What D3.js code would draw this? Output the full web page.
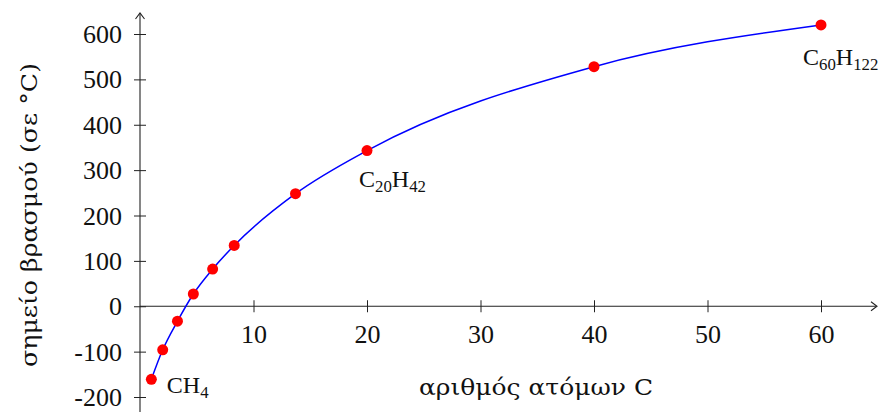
<!DOCTYPE html>
<html>
<head>
<meta charset="utf-8">
<script src="https://cdn.jsdelivr.net/npm/d3@7"></script>
<style>
html,body{margin:0;padding:0;background:#fff;}
svg text{font-family:"Liberation Serif","DejaVu Serif",serif;fill:#111;}
</style>
</head>
<body>
<svg id="chart" width="881" height="412"></svg>
<script>
const carbons = [1, 2, 3.3, 4.7, 6.4, 8.3, 13.7, 20, 40, 60];
const boilingPoints = [-161, -96, -33, 27, 82, 134, 248, 343, 528, 620];
const xTicks = [10, 20, 30, 40, 50, 60];
const yTicks = [-200, -100, 0, 100, 200, 300, 400, 500, 600];
const xTitle = "αριθμός ατόμων C";
const yTitle = "σημείο βρασμού (σε °C)";
const labelIndex = [0, 7, 9];
const labelParts = [
  [["C",0],["H",0],["4",1]],
  [["C",0],["20",1],["H",0],["42",1]],
  [["C",0],["60",1],["H",0],["122",1]]
];

const svg = d3.select("#chart");
const x = d3.scaleLinear().domain([0, 60]).range([140, 821]);
const y = d3.scaleLinear().domain([-200, 600]).range([397, 34]);
const fs = 26;
const lfs = 24;
const axisColor = "#222";
const fmt = d => String(d);
const FF = '"Liberation Serif","DejaVu Serif",serif';
const GF = '"DejaVu Serif","Liberation Serif",serif';

// x axis
const xAxis = d3.axisBottom(x).tickValues(xTicks).tickSize(0).tickPadding(0).tickFormat(fmt);
const gx = svg.append("g").attr("transform", `translate(0,${y(0)})`).call(xAxis);
gx.select(".domain").remove();
gx.selectAll(".tick text").attr("dy", null).attr("y", 37).style("font-size", fs + "px").style("font-family", FF).attr("fill", "#111");
gx.selectAll(".tick").append("line").attr("y1", -6).attr("y2", 6).attr("stroke", axisColor).attr("stroke-width", 1);
svg.append("line").attr("x1", 140).attr("x2", 876).attr("y1", y(0)).attr("y2", y(0)).attr("stroke", axisColor).attr("stroke-width", 1.1);
svg.append("path").attr("d", `M871,${y(0)-4.5} L877,${y(0)} L871,${y(0)+4.5}`).attr("fill", "none").attr("stroke", axisColor).attr("stroke-width", 1.1);

// y axis
const yAxis = d3.axisLeft(y).tickValues(yTicks).tickSize(0).tickPadding(0).tickFormat(fmt);
const gy = svg.append("g").attr("transform", `translate(${x(0)},0)`).call(yAxis);
gy.select(".domain").remove();
gy.selectAll(".tick text").attr("x", -18).attr("dy", "0.33em").style("font-size", fs + "px").style("font-family", FF).attr("fill", "#111");
gy.selectAll(".tick").append("line").attr("x1", -6).attr("x2", 6).attr("stroke", axisColor).attr("stroke-width", 1);
svg.append("line").attr("x1", x(0)).attr("x2", x(0)).attr("y1", 412).attr("y2", 13).attr("stroke", axisColor).attr("stroke-width", 1.1);
svg.append("path").attr("d", `M${x(0)-4.5},19 L${x(0)},13 L${x(0)+4.5},19`).attr("fill", "none").attr("stroke", axisColor).attr("stroke-width", 1.1);

// titles
svg.append("text").attr("x", 536).attr("y", 395).attr("text-anchor", "middle").style("font-size", "22px").style("font-family", GF)
  .attr("textLength", 234).attr("lengthAdjust", "spacingAndGlyphs").text(xTitle);
svg.append("text").attr("transform", "translate(37,215) rotate(-90)").attr("text-anchor", "middle").style("font-size", "22px").style("font-family", GF)
  .attr("textLength", 304).attr("lengthAdjust", "spacingAndGlyphs").text(yTitle);

// curve
const data = carbons.map((c, i) => ({c, t: boilingPoints[i]}));
const line = d3.line().x(d => x(d.c)).y(d => y(d.t)).curve(d3.curveMonotoneX);
svg.append("path").datum(data).attr("d", line).attr("fill", "none").attr("stroke", "#0000ff").attr("stroke-width", 1.5);

svg.selectAll("circle.pt").data(data).enter().append("circle").attr("class", "pt")
  .attr("cx", d => x(d.c)).attr("cy", d => y(d.t)).attr("r", 5.5).attr("fill", "#ff0000");

// labels
const offsets = [[15.5, 14], [-8, 36.5], [-18, 40.5]];
labelIndex.forEach((idx, k) => {
  const d = data[idx];
  const t = svg.append("text").attr("x", x(d.c) + offsets[k][0]).attr("y", y(d.t) + offsets[k][1]).style("font-size", lfs + "px");
  const parts = labelParts[k];
  parts.forEach(([s, sub], i) => {
    const prevSub = i > 0 && parts[i-1][1];
    const ts = t.append("tspan").text(s);
    if (sub) ts.style("font-size", (lfs * 0.7) + "px");
    ts.attr("dy", sub && !prevSub ? 4.5 : (!sub && prevSub ? -4.5 : 0));
  });
});
</script>
</body>
</html>
